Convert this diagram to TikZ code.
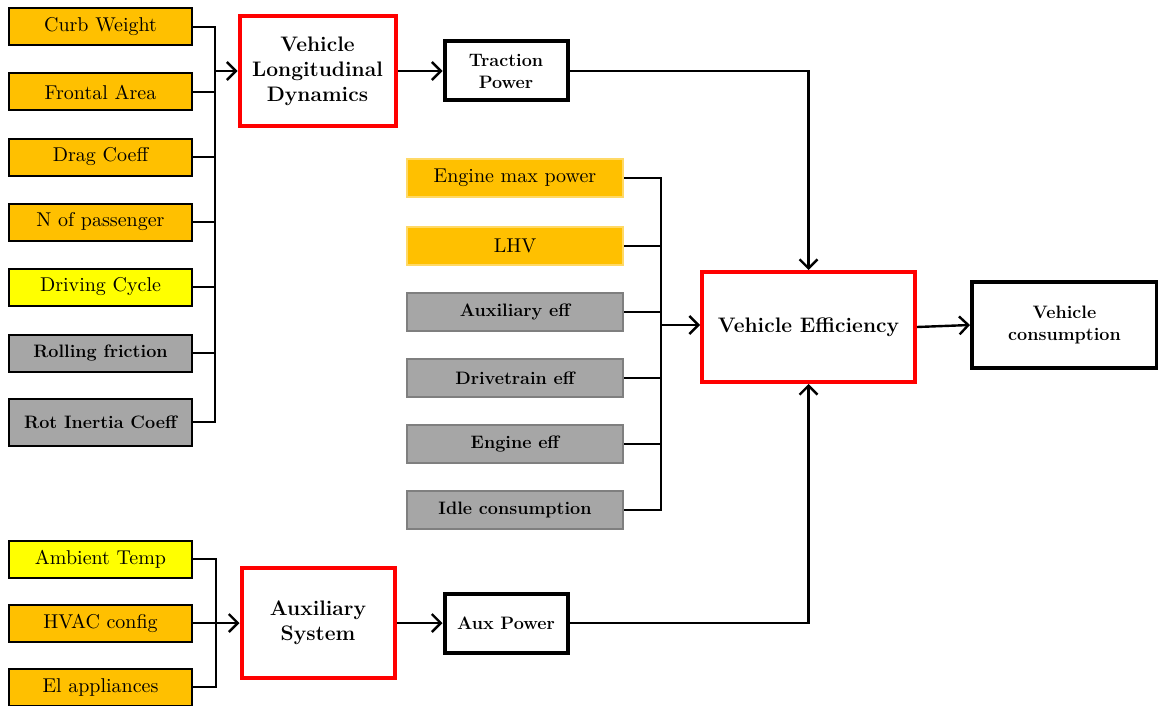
\documentclass[tikz,border=0pt]{standalone}
\usepackage{fontspec}
\setmainfont{Latin Modern Roman}
\newfontfamily\paramfont{lmroman10-regular.otf}
\usetikzlibrary{arrows.meta}
\definecolor{inorange}{HTML}{FFC000}
\definecolor{inyellow}{HTML}{FFFF00}
\definecolor{ingray}{HTML}{A6A6A6}
\definecolor{ingrayline}{HTML}{7F7F7F}
\definecolor{inorangeline}{HTML}{FFD966}
\definecolor{blockred}{HTML}{FF0000}
\tikzset{
  x=1pt, y=-1pt,
  txt/.style={font=\paramfont\fontsize{20}{23}\selectfont},
  btxt/.style={font=\fontsize{18}{21}\selectfont\bfseries},
  param/.style={draw=black, line width=2pt, minimum width=183pt, minimum height=37pt, inner sep=0pt, txt},
  orangebox/.style={param, fill=inorange},
  yellowbox/.style={param, fill=inyellow},
  graybox/.style={param, fill=ingray, btxt},
  midorange/.style={draw=inorangeline, line width=2pt, fill=inorange, minimum width=216pt, minimum height=38pt, inner sep=0pt, txt},
  midgray/.style={draw=ingrayline, line width=2pt, fill=ingray, minimum width=216pt, minimum height=38pt, inner sep=0pt, btxt},
  model/.style={draw=blockred, line width=4pt, fill=white, align=center, inner sep=0pt, font=\fontsize{21}{25}\selectfont\bfseries},
  result/.style={draw=black, line width=4pt, fill=white, align=center, inner sep=0pt, font=\fontsize{18}{22}\selectfont\bfseries},
  wire/.style={line width=2.4pt},
  flow/.style={line width=2.4pt, -{Straight Barb[length=9pt,width=18pt,line width=2.4pt]}},
}
\begin{document}
\begin{tikzpicture}
\useasboundingbox (0,0) rectangle (1158,706);

% vehicle parameters
\node[orangebox] (curb)  at (100.5,27)  {Curb Weight};
\node[orangebox] (front) at (100.5,92)  {Frontal Area};
\node[orangebox] (drag)  at (100.5,157) {Drag Coeff};
\node[orangebox] (pass)  at (100.5,222) {N of passenger};
\node[yellowbox] (cycle) at (100.5,287) {Driving Cycle};
\node[graybox]   (roll)  at (100.5,353) {Rolling friction};
\node[graybox, minimum height=47pt] (rot) at (100.5,422) {Rot Inertia Coeff};

% powertrain parameters
\node[midorange] (emax) at (515,178) {Engine max power};
\node[midorange] (lhv)  at (515,246) {LHV};
\node[midgray]   (auxe) at (515,312) {Auxiliary eff};
\node[midgray]   (drve) at (515,378) {Drivetrain eff};
\node[midgray]   (enge) at (515,444) {Engine eff};
\node[midgray]   (idle) at (515,510) {Idle consumption};

% auxiliary parameters
\node[yellowbox] (amb)  at (100.5,559) {Ambient Temp};
\node[orangebox] (hvac) at (100.5,623) {HVAC config};
\node[orangebox] (elap) at (100.5,687) {El appliances};

% model blocks
\node[model, minimum width=156pt, minimum height=110pt] (vld) at (317.5,71) {Vehicle\\Longitudinal\\Dynamics};
\node[model, minimum width=213pt, minimum height=110pt] (veff) at (808.5,327) {Vehicle Efficiency};
\node[model, minimum width=153pt, minimum height=110pt] (auxs) at (318,623) {Auxiliary\\System};

% outputs
\node[result, minimum width=123pt, minimum height=59pt] (trac) at (506,71) {Traction\\Power};
\node[result, minimum width=123pt, minimum height=59pt] (auxp) at (506,623) {Aux Power};
\node[result, minimum width=185pt, minimum height=86pt] (cons) at (1064.5,325) {Vehicle\\consumption};

% bus junctions
\coordinate (busA) at (215,71);
\coordinate (busB) at (661,325);
\coordinate (busC) at (216,623);

% vehicle parameters bus
\draw[wire] (curb.east) -| (215,27) -- (215,422) -- (rot.east);
\foreach \n in {front,drag,pass,cycle,roll} \draw[wire] (\n.east) -- (\n.east -| busA);
\draw[flow] (busA) -- (busA -| vld.west);

% powertrain parameters bus
\draw[wire] (emax.east) -| (661,178) -- (661,510) -- (idle.east);
\foreach \n in {lhv,auxe,drve,enge} \draw[wire] (\n.east) -- (\n.east -| busB);
\draw[flow] (busB) -- (busB -| veff.west);

% auxiliary parameters bus
\draw[wire] (amb.east) -| (216,559) -- (216,687) -- (elap.east);
\draw[wire] (hvac.east) -- (busC);
\draw[flow] (busC) -- (busC -| auxs.west);

% main flow
\draw[flow] (vld.east) -- (trac.west);
\draw[flow] (auxs.east) -- (auxp.west);
\draw[flow] (trac.east) -| (veff.north);
\draw[flow] (auxp.east) -| (veff.south);
\draw[flow] (veff.east) -- (cons.west);
\end{tikzpicture}
\end{document}
